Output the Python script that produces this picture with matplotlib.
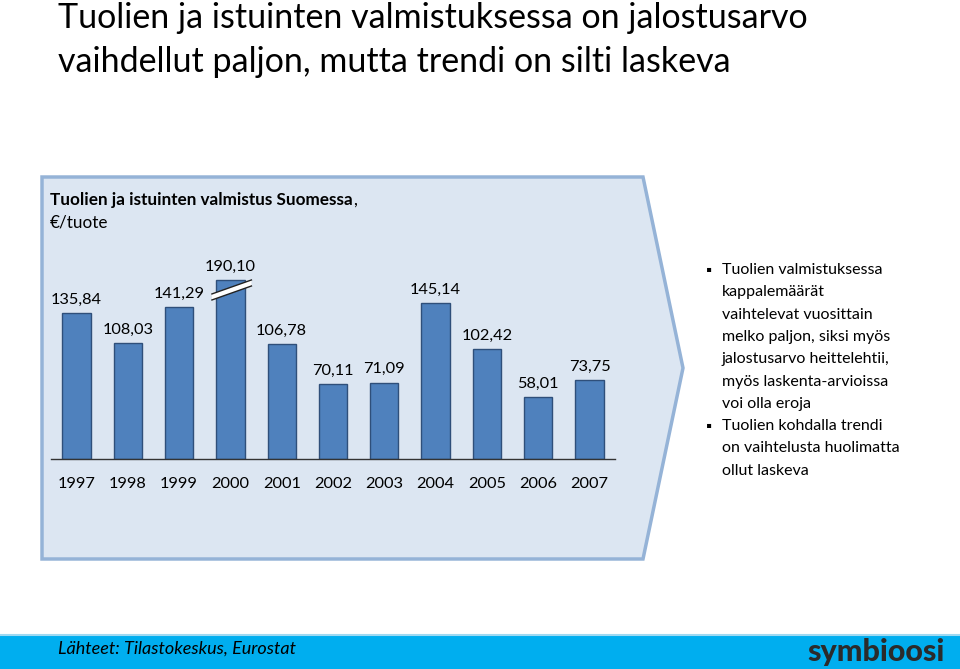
#!/usr/bin/env python3
"""Tuolien ja istuinten valmistus Suomessa - slide recreation."""

import matplotlib

matplotlib.use("Agg")
import matplotlib.pyplot as plt
from matplotlib.patches import Polygon, Rectangle

plt.rcParams["font.family"] = ["Lato", "DejaVu Sans"]

YEARS = ["1997", "1998", "1999", "2000", "2001", "2002", "2003", "2004", "2005", "2006", "2007"]
VALUES = [135.84, 108.03, 141.29, 190.10, 106.78, 70.11, 71.09, 145.14, 102.42, 58.01, 73.75]
LABELS = ["135,84", "108,03", "141,29", "190,10", "106,78", "70,11", "71,09",
          "145,14", "102,42", "58,01", "73,75"]
BREAK_CAP = 166.5  # bar for 2000 drawn broken at this height

TITLE = ["Tuolien ja istuinten valmistuksessa on jalostusarvo",
         "vaihdellut paljon, mutta trendi on silti laskeva"]
CHART_TITLE = "Tuolien ja istuinten valmistus Suomessa"
CHART_UNIT = "€/tuote"
BULLETS = [
    ["Tuolien valmistuksessa", "kappalemäärät", "vaihtelevat vuosittain",
     "melko paljon, siksi myös", "jalostusarvo heittelehtii,",
     "myös laskenta-arvioissa", "voi olla eroja"],
    ["Tuolien kohdalla trendi", "on vaihtelusta huolimatta", "ollut laskeva"],
]
SOURCE = "Lähteet: Tilastokeskus, Eurostat"

W, H = 960, 669
BAR = "#4F81BD"
BAR_EDGE = "#2F4F7A"
PANEL = "#DCE6F2"
PANEL_EDGE = "#95B3D7"
FOOTER = "#00AEEF"

fig = plt.figure(figsize=(W / 100, H / 100), dpi=100)
bg = fig.add_axes([0, 0, 1, 1])
bg.set_xlim(0, W)
bg.set_ylim(H, 0)
bg.axis("off")

# title
for k, line in enumerate(TITLE):
    bg.text(58, 18 + k * 44, line, fontsize=24.5, va="center", ha="left", color="black")

# arrow-shaped panel
bg.add_patch(Polygon([(42, 177), (643, 177), (683, 368), (643, 559), (42, 559)],
                     closed=True, facecolor=PANEL, edgecolor=PANEL_EDGE, lw=2.5))
t1 = bg.text(50, 200, CHART_TITLE, fontsize=12.3, fontweight="bold", va="center", ha="left")
bg.annotate(",", xy=(1, 0.5), xycoords=t1, va="center", ha="left", fontsize=12.3)
bg.text(50, 223, CHART_UNIT, fontsize=12.3, va="center", ha="left")

# bullets
y = 270
for block in BULLETS:
    bg.text(706, y + 1, "\u25aa", fontsize=11, va="center", ha="left")
    for line in block:
        bg.text(722, y, line, fontsize=11.5, va="center", ha="left")
        y += 22.3

# footer
bg.add_patch(Rectangle((0, 635), W, 34, facecolor=FOOTER, edgecolor="none"))
bg.plot([0, W], [634.5, 634.5], color="#9ED9F2", lw=1.5)
bg.text(58, 649, SOURCE, fontsize=13, style="italic", va="center", ha="left")
bg.text(945, 652, "symbioosi", fontsize=22, fontweight="black", va="center", ha="right",
        color="#2b2b2b")

# bar chart
ax = fig.add_axes([50.85 / W, (H - 459) / H, 564.3 / W, 204.3 / H])
ax.set_xlim(-0.5, len(YEARS) - 0.5)
ax.set_ylim(0, 190)
ax.patch.set_visible(False)
for side in ("top", "right", "left"):
    ax.spines[side].set_visible(False)
ax.spines["bottom"].set_color("#333333")
ax.spines["bottom"].set_linewidth(1.0)
ax.set_yticks([])
xs = list(range(len(YEARS)))
heights = [min(v, BREAK_CAP) for v in VALUES]
ax.bar(xs, heights, width=0.55, color=BAR, edgecolor=BAR_EDGE, linewidth=1.0)
ax.set_xticks(xs)
ax.set_xticklabels(YEARS, fontsize=11.8)
ax.tick_params(axis="x", length=0, pad=13)

for x, h, lab in zip(xs, heights, LABELS):
    ax.annotate(lab, (x, h), xytext=(0, 9.5), textcoords="offset points",
                ha="center", va="center", fontsize=11.8)

# break mark on the capped bar
bi = VALUES.index(max(VALUES))
x1, x2 = bi - 0.36, bi + 0.41
y1, y2 = 150.7, 163.7
t = 2.8
ax.add_patch(Polygon([(x1, y1 - t), (x2, y2 - t), (x2, y2 + t), (x1, y1 + t)],
                     closed=True, facecolor="white", edgecolor="none", clip_on=False, zorder=4))
for d in (-t, t):
    ax.plot([x1, x2], [y1 + d, y2 + d], color="#222222", lw=1.0, clip_on=False, zorder=5)

fig.savefig("out.png", dpi=100)
